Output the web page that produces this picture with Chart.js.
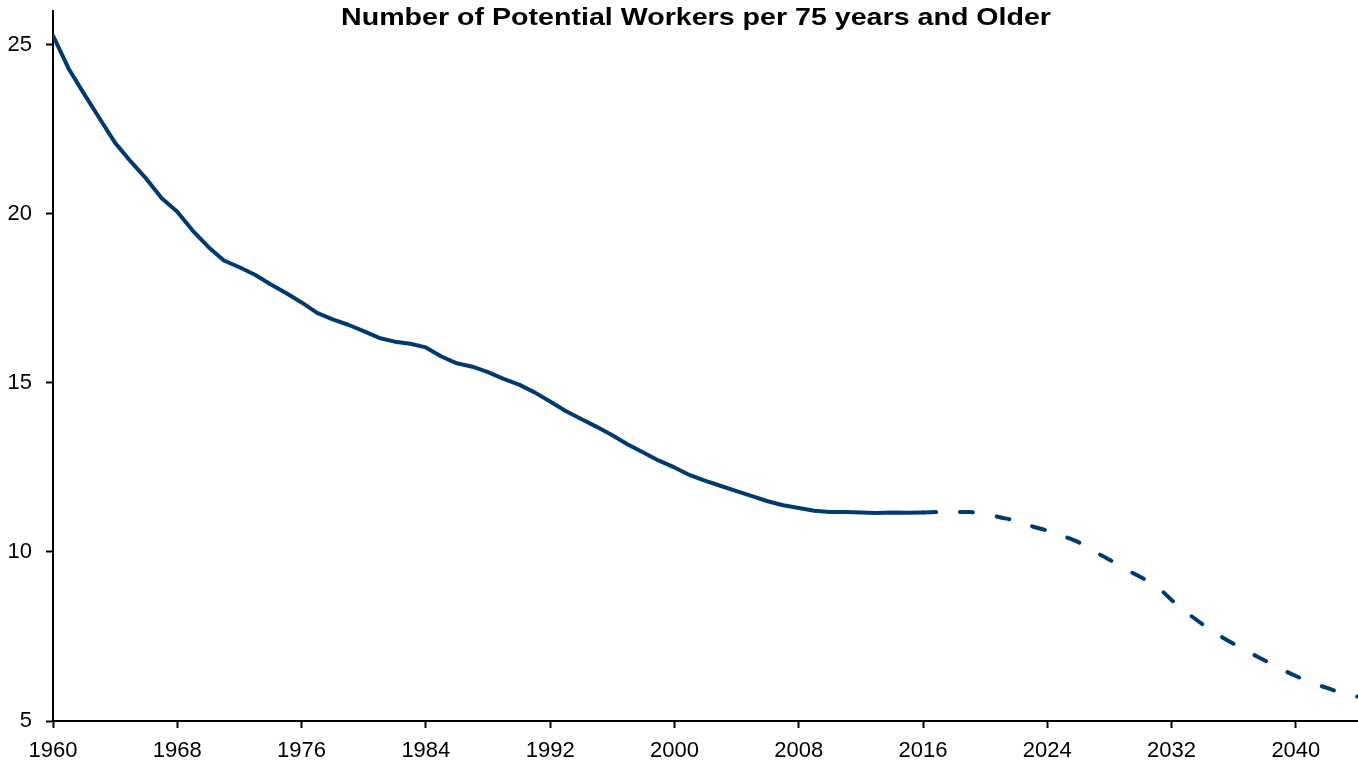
<!DOCTYPE html>
<html>
<head>
<meta charset="utf-8">
<script src="https://cdn.jsdelivr.net/npm/chart.js@4.4.1/dist/chart.umd.min.js"></script>
<style>
  html, body { margin: 0; padding: 0; background: #fff; }
  #wrap { width: 1358px; height: 765px; }
</style>
</head>
<body>
<div id="wrap"><canvas id="workers"></canvas></div>
<script>
// actual figures, 1960-2016
const actualYears = [
  1960, 1961, 1962, 1963, 1964, 1965, 1966, 1967, 1968, 1969,
  1970, 1971, 1972, 1973, 1974, 1975, 1976, 1977, 1978, 1979,
  1980, 1981, 1982, 1983, 1984, 1985, 1986, 1987, 1988, 1989,
  1990, 1991, 1992, 1993, 1994, 1995, 1996, 1997, 1998, 1999,
  2000, 2001, 2002, 2003, 2004, 2005, 2006, 2007, 2008, 2009,
  2010, 2011, 2012, 2013, 2014, 2015, 2016
];
const actualValues = [
  25.27, 24.30, 23.55, 22.82, 22.10, 21.55, 21.04, 20.46, 20.06, 19.50,
  19.02, 18.62, 18.42, 18.20, 17.92, 17.66, 17.38, 17.07, 16.88, 16.72,
  16.53, 16.33, 16.22, 16.16, 16.05, 15.78, 15.58, 15.48, 15.32, 15.12,
  14.95, 14.72, 14.45, 14.17, 13.93, 13.70, 13.45, 13.18, 12.94, 12.70,
  12.50, 12.27, 12.10, 11.95, 11.80, 11.65, 11.50, 11.38, 11.30, 11.22,
  11.18, 11.18, 11.17, 11.15, 11.17, 11.16, 11.17
];

// projection, 2016-2044
const projYears = [
  2016, 2017, 2018, 2019, 2020, 2021, 2022, 2023, 2024, 2025,
  2026, 2027, 2028, 2029, 2030, 2031, 2032, 2033, 2034, 2035,
  2036, 2037, 2038, 2039, 2040, 2041, 2042, 2043, 2044
];
const projValues = [
  11.17, 11.18, 11.18, 11.18, 11.13, 11.02, 10.92, 10.76, 10.63, 10.47,
  10.29, 10.02, 9.77, 9.50, 9.26, 9.00, 8.58, 8.20, 7.86, 7.55,
  7.28, 7.03, 6.79, 6.55, 6.33, 6.13, 5.98, 5.82, 5.72
];

const yTicks = [5, 10, 15, 20, 25];
const titleText = 'Number of Potential Workers per 75 years and Older';

const navy = '#003a70';
const fontFamily = "'Liberation Sans', Arial, sans-serif";

const toPoints = (xs, ys) => xs.map((x, i) => ({ x: x, y: ys[i] }));

// title sits inside the plot area, so draw it by hand;
// the original is a bit wider than plain Arial bold, stretch it to fit
const titlePlugin = {
  id: 'insideTitle',
  afterDraw(chart) {
    const ctx = chart.ctx;
    const left = 341, right = 1051, baseline = 25;
    ctx.save();
    ctx.font = 'bold 24px ' + fontFamily;
    ctx.fillStyle = '#000';
    ctx.textAlign = 'left';
    ctx.textBaseline = 'alphabetic';
    const w = ctx.measureText(titleText).width;
    ctx.translate(left, baseline);
    ctx.scale((right - left) / w, 1);
    ctx.fillText(titleText, 0, 0);
    ctx.restore();
  }
};

const axisCommon = {
  grid: {
    display: true,
    drawOnChartArea: false,
    drawTicks: true,
    tickLength: 7,
    tickWidth: 2,
    tickColor: '#000'
  },
  border: { display: true, color: '#000', width: 2 }
};

new Chart(document.getElementById('workers'), {
  type: 'line',
  data: {
    datasets: [
      {
        data: toPoints(actualYears, actualValues),
        borderColor: navy,
        borderWidth: 4,
        pointRadius: 0,
        tension: 0,
        borderCapStyle: 'round',
        borderJoinStyle: 'round'
      },
      {
        data: toPoints(projYears, projValues),
        borderColor: navy,
        borderWidth: 4,
        borderDash: [13, 24],
        borderCapStyle: 'round',
        pointRadius: 0,
        tension: 0.3
      }
    ]
  },
  plugins: [titlePlugin],
  options: {
    responsive: true,
    maintainAspectRatio: false,
    animation: false,
    layout: { padding: { top: 11, right: 0, left: 0, bottom: 0 } },
    plugins: {
      legend: { display: false },
      tooltip: { enabled: false }
    },
    scales: {
      x: {
        type: 'linear',
        min: 1960,
        max: 2044,
        ...axisCommon,
        ticks: {
          stepSize: 8,
          includeBounds: false,
          autoSkip: false,
          maxRotation: 0,
          padding: 10,
          color: '#000',
          font: { family: fontFamily, size: 22 },
          callback: (v) => String(v)
        },
        afterFit: (scale) => {
          scale.height = 44;
          scale.paddingLeft = 0;
          scale.paddingRight = 0;
        }
      },
      y: {
        min: 5,
        max: 26,
        ...axisCommon,
        afterBuildTicks: (scale) => {
          scale.ticks = yTicks.map(v => ({ value: v }));
        },
        ticks: {
          padding: 14,
          color: '#000',
          font: { family: fontFamily, size: 22 },
          callback: (v) => String(v)
        },
        afterFit: (scale) => {
          scale.width = 53;
          scale.paddingTop = 0;
          scale.paddingBottom = 0;
        }
      }
    }
  }
});
</script>
</body>
</html>
